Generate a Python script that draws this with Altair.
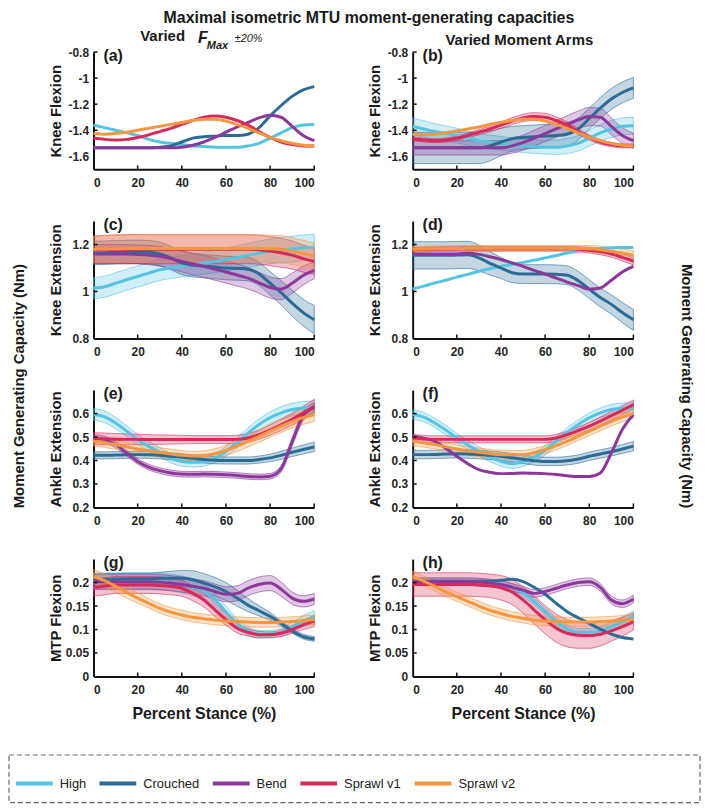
import altair as alt
import pandas as pd

FONT = "Liberation Sans, Arial, sans-serif"
NARROW = "Liberation Sans Narrow, Arial Narrow, Liberation Sans, sans-serif"

X = [0, 5, 10, 15, 20, 25, 30, 35, 40, 45, 50, 55, 60, 65, 70, 75, 80, 85, 90, 95, 100]
XTICKS = [0, 20, 40, 60, 80, 100]
SERIES = ["High", "Crouched", "Bend", "Sprawl v1", "Sprawl v2"]
COLORS = ["#55C3E2", "#2B6C96", "#8C389B", "#D72A5B", "#F59641"]

# ---------------- (a) Knee flexion, varied Fmax ----------------
A_LINES = {
    "High": [-1.36, -1.38, -1.40, -1.42, -1.44, -1.47, -1.49, -1.50, -1.51, -1.52, -1.525, -1.53, -1.53, -1.53, -1.52, -1.50, -1.46, -1.42, -1.38, -1.36, -1.355],
    "Crouched": [-1.535, -1.535, -1.535, -1.535, -1.535, -1.535, -1.53, -1.52, -1.49, -1.46, -1.45, -1.445, -1.44, -1.44, -1.43, -1.38, -1.29, -1.21, -1.14, -1.09, -1.065],
    "Bend": [-1.535, -1.535, -1.535, -1.535, -1.535, -1.535, -1.535, -1.535, -1.53, -1.515, -1.49, -1.455, -1.415, -1.375, -1.34, -1.305, -1.285, -1.30, -1.37, -1.44, -1.48],
    "Sprawl v1": [-1.46, -1.47, -1.475, -1.47, -1.455, -1.435, -1.41, -1.385, -1.355, -1.325, -1.30, -1.29, -1.30, -1.325, -1.36, -1.41, -1.455, -1.49, -1.51, -1.52, -1.52],
    "Sprawl v2": [-1.425, -1.43, -1.425, -1.415, -1.40, -1.385, -1.37, -1.355, -1.34, -1.325, -1.315, -1.315, -1.33, -1.355, -1.385, -1.42, -1.455, -1.48, -1.50, -1.515, -1.52],
}
A_BANDS = {}

# ---------------- (b) Knee flexion, varied moment arms ----------------
B_LINES = {
    "High": [-1.37, -1.39, -1.41, -1.425, -1.44, -1.46, -1.48, -1.49, -1.50, -1.51, -1.52, -1.525, -1.53, -1.53, -1.52, -1.50, -1.46, -1.42, -1.39, -1.37, -1.365],
    "Crouched": [-1.535, -1.535, -1.535, -1.535, -1.535, -1.535, -1.535, -1.52, -1.49, -1.465, -1.455, -1.45, -1.445, -1.44, -1.43, -1.39, -1.31, -1.23, -1.16, -1.11, -1.075],
    "Bend": [-1.535, -1.535, -1.535, -1.535, -1.535, -1.535, -1.535, -1.535, -1.535, -1.52, -1.495, -1.46, -1.425, -1.39, -1.355, -1.32, -1.295, -1.30, -1.37, -1.44, -1.48],
    "Sprawl v1": [-1.465, -1.475, -1.48, -1.475, -1.46, -1.44, -1.415, -1.39, -1.36, -1.33, -1.305, -1.295, -1.30, -1.325, -1.36, -1.41, -1.455, -1.49, -1.51, -1.52, -1.52],
    "Sprawl v2": [-1.43, -1.435, -1.43, -1.42, -1.405, -1.39, -1.375, -1.355, -1.34, -1.325, -1.315, -1.315, -1.33, -1.355, -1.385, -1.42, -1.455, -1.48, -1.50, -1.515, -1.52],
}
B_BANDS = {
    "High": [0.065, 0.063, 0.06, 0.058, 0.056, 0.055, 0.054, 0.053, 0.052, 0.052, 0.052, 0.052, 0.053, 0.055, 0.058, 0.06, 0.062, 0.064, 0.065, 0.065, 0.065],
    "Crouched": [0.12, 0.12, 0.12, 0.12, 0.12, 0.12, 0.12, 0.115, 0.105, 0.095, 0.09, 0.09, 0.09, 0.09, 0.09, 0.085, 0.08, 0.08, 0.08, 0.08, 0.08],
    "Bend": [0.055, 0.055, 0.055, 0.055, 0.055, 0.055, 0.055, 0.055, 0.055, 0.056, 0.058, 0.06, 0.062, 0.064, 0.066, 0.068, 0.07, 0.068, 0.065, 0.06, 0.058],
    "Sprawl v1": [0.015, 0.015, 0.015, 0.016, 0.017, 0.018, 0.02, 0.022, 0.024, 0.026, 0.028, 0.03, 0.03, 0.028, 0.025, 0.022, 0.02, 0.018, 0.016, 0.015, 0.015],
}

# ---------------- (c) Knee extension, varied Fmax ----------------
C_LINES = {
    "High": [1.014, 1.02, 1.035, 1.05, 1.064, 1.078, 1.092, 1.10, 1.107, 1.114, 1.121, 1.128, 1.136, 1.145, 1.154, 1.163, 1.171, 1.177, 1.181, 1.186, 1.189],
    "Crouched": [1.164, 1.165, 1.167, 1.168, 1.169, 1.167, 1.16, 1.143, 1.122, 1.112, 1.108, 1.104, 1.10, 1.098, 1.095, 1.075, 1.035, 0.995, 0.95, 0.91, 0.88],
    "Bend": [1.16, 1.16, 1.16, 1.16, 1.158, 1.155, 1.15, 1.14, 1.128, 1.117, 1.107, 1.095, 1.083, 1.07, 1.057, 1.037, 1.017, 1.01, 1.035, 1.068, 1.09],
    "Sprawl v1": [1.178, 1.179, 1.18, 1.18, 1.18, 1.18, 1.18, 1.18, 1.18, 1.18, 1.18, 1.18, 1.18, 1.18, 1.18, 1.178, 1.172, 1.165, 1.155, 1.14, 1.128],
    "Sprawl v2": [1.18, 1.181, 1.182, 1.183, 1.183, 1.183, 1.183, 1.183, 1.183, 1.183, 1.183, 1.183, 1.183, 1.183, 1.183, 1.183, 1.182, 1.18, 1.172, 1.162, 1.15],
}
C_BANDS = {
    "High": [0.045, 0.045, 0.045, 0.045, 0.045, 0.045, 0.045, 0.045, 0.045, 0.046, 0.047, 0.048, 0.049, 0.05, 0.051, 0.052, 0.053, 0.054, 0.055, 0.055, 0.055],
    "Crouched": [0.05, 0.05, 0.05, 0.05, 0.05, 0.05, 0.05, 0.05, 0.05, 0.05, 0.05, 0.05, 0.05, 0.05, 0.05, 0.05, 0.05, 0.052, 0.055, 0.057, 0.06],
    "Bend": [0.04, 0.04, 0.04, 0.04, 0.04, 0.041, 0.042, 0.044, 0.045, 0.046, 0.047, 0.047, 0.047, 0.047, 0.046, 0.045, 0.045, 0.045, 0.043, 0.04, 0.035],
    "Sprawl v1": [0.058, 0.06, 0.061, 0.062, 0.062, 0.062, 0.062, 0.062, 0.062, 0.062, 0.062, 0.062, 0.062, 0.062, 0.062, 0.062, 0.062, 0.062, 0.06, 0.058, 0.056],
    "Sprawl v2": [0.055, 0.057, 0.058, 0.058, 0.058, 0.058, 0.058, 0.058, 0.058, 0.058, 0.058, 0.058, 0.058, 0.058, 0.058, 0.058, 0.058, 0.058, 0.057, 0.056, 0.055],
}

# ---------------- (d) Knee extension, varied moment arms ----------------
D_LINES = {
    "High": [1.011, 1.023, 1.036, 1.048, 1.061, 1.073, 1.086, 1.097, 1.107, 1.115, 1.124, 1.133, 1.143, 1.153, 1.164, 1.172, 1.179, 1.183, 1.186, 1.187, 1.187],
    "Crouched": [1.154, 1.154, 1.154, 1.154, 1.155, 1.156, 1.143, 1.12, 1.10, 1.08, 1.074, 1.074, 1.074, 1.073, 1.069, 1.046, 1.01, 0.974, 0.945, 0.91, 0.879],
    "Bend": [1.16, 1.16, 1.16, 1.16, 1.16, 1.163, 1.158, 1.148, 1.136, 1.122, 1.107, 1.09, 1.074, 1.057, 1.04, 1.025, 1.01, 1.015, 1.048, 1.083, 1.107],
    "Sprawl v1": [1.178, 1.179, 1.18, 1.181, 1.181, 1.182, 1.182, 1.182, 1.182, 1.182, 1.182, 1.182, 1.182, 1.182, 1.182, 1.18, 1.176, 1.17, 1.16, 1.145, 1.129],
    "Sprawl v2": [1.18, 1.181, 1.182, 1.183, 1.183, 1.184, 1.184, 1.184, 1.184, 1.184, 1.184, 1.184, 1.184, 1.184, 1.184, 1.183, 1.182, 1.178, 1.171, 1.163, 1.154],
}
D_BANDS = {
    "Crouched": [0.058, 0.058, 0.058, 0.058, 0.058, 0.058, 0.055, 0.05, 0.045, 0.042, 0.04, 0.04, 0.04, 0.04, 0.04, 0.04, 0.04, 0.04, 0.041, 0.043, 0.045],
    "Sprawl v1": [0.01, 0.01, 0.01, 0.01, 0.01, 0.01, 0.01, 0.01, 0.01, 0.01, 0.01, 0.01, 0.01, 0.01, 0.01, 0.011, 0.012, 0.013, 0.014, 0.015, 0.016],
    "Sprawl v2": [0.012, 0.012, 0.012, 0.012, 0.012, 0.012, 0.012, 0.012, 0.012, 0.012, 0.012, 0.012, 0.012, 0.012, 0.012, 0.013, 0.014, 0.015, 0.016, 0.018, 0.02],
}

# ---------------- (e) Ankle extension, varied Fmax ----------------
E_LINES = {
    "High": [0.596, 0.586, 0.56, 0.525, 0.489, 0.46, 0.435, 0.41, 0.396, 0.392, 0.396, 0.41, 0.439, 0.475, 0.517, 0.553, 0.582, 0.603, 0.617, 0.624, 0.627],
    "Crouched": [0.422, 0.422, 0.423, 0.424, 0.425, 0.424, 0.422, 0.418, 0.414, 0.409, 0.404, 0.401, 0.40, 0.40, 0.40, 0.404, 0.411, 0.422, 0.435, 0.447, 0.458],
    "Bend": [0.496, 0.489, 0.468, 0.432, 0.396, 0.372, 0.357, 0.347, 0.342, 0.341, 0.342, 0.341, 0.339, 0.336, 0.332, 0.33, 0.333, 0.365, 0.48, 0.59, 0.625],
    "Sprawl v1": [0.493, 0.492, 0.491, 0.49, 0.49, 0.489, 0.489, 0.489, 0.489, 0.489, 0.489, 0.489, 0.489, 0.49, 0.496, 0.51, 0.53, 0.552, 0.576, 0.602, 0.631],
    "Sprawl v2": [0.482, 0.476, 0.468, 0.458, 0.449, 0.442, 0.435, 0.428, 0.422, 0.419, 0.421, 0.429, 0.443, 0.461, 0.482, 0.503, 0.525, 0.546, 0.567, 0.583, 0.596],
}
E_BANDS = {
    "High": [0.025, 0.025, 0.024, 0.023, 0.022, 0.021, 0.02, 0.02, 0.02, 0.02, 0.02, 0.02, 0.021, 0.022, 0.023, 0.024, 0.025, 0.026, 0.027, 0.027, 0.027],
    "Crouched": [0.015, 0.015, 0.015, 0.015, 0.015, 0.015, 0.015, 0.015, 0.015, 0.015, 0.015, 0.015, 0.015, 0.015, 0.015, 0.015, 0.016, 0.017, 0.018, 0.019, 0.02],
    "Bend": [0.014, 0.014, 0.014, 0.013, 0.012, 0.012, 0.012, 0.012, 0.012, 0.012, 0.012, 0.012, 0.012, 0.012, 0.012, 0.012, 0.012, 0.014, 0.018, 0.02, 0.02],
    "Sprawl v1": [0.025, 0.025, 0.024, 0.023, 0.022, 0.021, 0.02, 0.019, 0.018, 0.017, 0.017, 0.017, 0.017, 0.018, 0.019, 0.02, 0.022, 0.024, 0.026, 0.028, 0.03],
    "Sprawl v2": [0.02, 0.02, 0.02, 0.02, 0.02, 0.02, 0.02, 0.02, 0.02, 0.02, 0.02, 0.021, 0.022, 0.023, 0.024, 0.025, 0.026, 0.027, 0.028, 0.029, 0.03],
}

# ---------------- (f) Ankle extension, varied moment arms ----------------
F_LINES = {
    "High": [0.596, 0.585, 0.56, 0.53, 0.496, 0.466, 0.439, 0.415, 0.396, 0.386, 0.395, 0.415, 0.443, 0.482, 0.52, 0.553, 0.582, 0.603, 0.617, 0.623, 0.624],
    "Crouched": [0.425, 0.425, 0.426, 0.428, 0.429, 0.428, 0.425, 0.422, 0.418, 0.412, 0.405, 0.399, 0.396, 0.396, 0.399, 0.406, 0.418, 0.428, 0.437, 0.449, 0.461],
    "Bend": [0.503, 0.495, 0.482, 0.452, 0.418, 0.386, 0.361, 0.35, 0.344, 0.345, 0.347, 0.346, 0.344, 0.34, 0.335, 0.332, 0.332, 0.347, 0.432, 0.532, 0.596],
    "Sprawl v1": [0.496, 0.492, 0.49, 0.49, 0.49, 0.49, 0.49, 0.49, 0.49, 0.49, 0.49, 0.49, 0.49, 0.496, 0.51, 0.527, 0.546, 0.568, 0.591, 0.614, 0.638],
    "Sprawl v2": [0.482, 0.475, 0.468, 0.458, 0.449, 0.441, 0.435, 0.429, 0.425, 0.424, 0.425, 0.433, 0.446, 0.463, 0.482, 0.503, 0.525, 0.546, 0.567, 0.585, 0.6],
}
F_BANDS = {
    "High": [0.02, 0.02, 0.02, 0.02, 0.02, 0.02, 0.02, 0.02, 0.02, 0.02, 0.02, 0.02, 0.02, 0.02, 0.02, 0.02, 0.02, 0.021, 0.022, 0.022, 0.022],
    "Crouched": [0.018, 0.018, 0.018, 0.018, 0.018, 0.018, 0.018, 0.018, 0.018, 0.018, 0.018, 0.018, 0.018, 0.018, 0.018, 0.018, 0.018, 0.018, 0.018, 0.019, 0.02],
    "Sprawl v1": [0.015, 0.015, 0.015, 0.015, 0.015, 0.015, 0.015, 0.015, 0.015, 0.015, 0.015, 0.015, 0.015, 0.015, 0.015, 0.015, 0.016, 0.017, 0.018, 0.019, 0.02],
    "Sprawl v2": [0.018, 0.018, 0.018, 0.018, 0.018, 0.018, 0.018, 0.018, 0.018, 0.018, 0.018, 0.018, 0.018, 0.018, 0.018, 0.018, 0.019, 0.02, 0.02, 0.02, 0.02],
}

# ---------------- (g) MTP flexion, varied Fmax ----------------
G_LINES = {
    "High": [0.202, 0.203, 0.203, 0.203, 0.203, 0.203, 0.202, 0.2, 0.196, 0.19, 0.181, 0.163, 0.138, 0.113, 0.097, 0.09, 0.09, 0.094, 0.106, 0.118, 0.126],
    "Crouched": [0.206, 0.207, 0.207, 0.208, 0.208, 0.208, 0.209, 0.209, 0.209, 0.206, 0.199, 0.191, 0.181, 0.167, 0.152, 0.14, 0.128, 0.113, 0.097, 0.085, 0.08],
    "Bend": [0.202, 0.202, 0.202, 0.202, 0.202, 0.202, 0.201, 0.199, 0.196, 0.192, 0.188, 0.181, 0.175, 0.177, 0.188, 0.196, 0.199, 0.186, 0.167, 0.16, 0.165],
    "Sprawl v1": [0.189, 0.192, 0.195, 0.195, 0.195, 0.195, 0.194, 0.192, 0.188, 0.177, 0.163, 0.142, 0.121, 0.103, 0.094, 0.089, 0.089, 0.092, 0.1, 0.11, 0.118],
    "Sprawl v2": [0.213, 0.204, 0.192, 0.179, 0.167, 0.156, 0.145, 0.137, 0.131, 0.126, 0.123, 0.12, 0.118, 0.117, 0.116, 0.115, 0.115, 0.116, 0.117, 0.119, 0.121],
}
G_BANDS = {
    "High": [0.018, 0.018, 0.018, 0.018, 0.018, 0.018, 0.018, 0.018, 0.018, 0.018, 0.016, 0.014, 0.012, 0.01, 0.009, 0.008, 0.008, 0.009, 0.01, 0.012, 0.014],
    "Crouched": [0.012, 0.012, 0.012, 0.012, 0.012, 0.012, 0.013, 0.015, 0.017, 0.019, 0.02, 0.02, 0.019, 0.017, 0.014, 0.011, 0.008, 0.006, 0.005, 0.005, 0.005],
    "Bend": [0.016, 0.016, 0.016, 0.016, 0.016, 0.016, 0.016, 0.016, 0.016, 0.016, 0.016, 0.016, 0.016, 0.016, 0.016, 0.016, 0.016, 0.015, 0.013, 0.012, 0.012],
    "Sprawl v1": [0.018, 0.018, 0.018, 0.018, 0.018, 0.018, 0.018, 0.018, 0.017, 0.016, 0.015, 0.014, 0.012, 0.01, 0.008, 0.007, 0.006, 0.007, 0.008, 0.01, 0.012],
    "Sprawl v2": [0.015, 0.014, 0.013, 0.012, 0.011, 0.01, 0.01, 0.01, 0.01, 0.01, 0.01, 0.01, 0.01, 0.01, 0.01, 0.01, 0.01, 0.01, 0.01, 0.01, 0.01],
}

# ---------------- (h) MTP flexion, varied moment arms ----------------
H_LINES = {
    "High": [0.202, 0.202, 0.202, 0.202, 0.202, 0.202, 0.201, 0.199, 0.196, 0.19, 0.178, 0.16, 0.138, 0.117, 0.101, 0.094, 0.094, 0.097, 0.106, 0.116, 0.128],
    "Crouched": [0.202, 0.203, 0.203, 0.203, 0.203, 0.203, 0.203, 0.203, 0.205, 0.207, 0.202, 0.19, 0.175, 0.156, 0.138, 0.125, 0.113, 0.101, 0.09, 0.083, 0.08],
    "Bend": [0.202, 0.202, 0.202, 0.202, 0.202, 0.202, 0.201, 0.199, 0.196, 0.19, 0.184, 0.177, 0.181, 0.188, 0.195, 0.2, 0.202, 0.19, 0.163, 0.155, 0.165],
    "Sprawl v1": [0.196, 0.196, 0.196, 0.196, 0.196, 0.196, 0.195, 0.193, 0.189, 0.18, 0.163, 0.142, 0.121, 0.103, 0.092, 0.088, 0.087, 0.09, 0.097, 0.106, 0.117],
    "Sprawl v2": [0.213, 0.203, 0.192, 0.18, 0.17, 0.16, 0.15, 0.141, 0.134, 0.128, 0.124, 0.12, 0.118, 0.117, 0.116, 0.116, 0.116, 0.117, 0.118, 0.12, 0.122],
}
H_BANDS = {
    "High": [0.008, 0.008, 0.008, 0.008, 0.008, 0.008, 0.008, 0.008, 0.008, 0.008, 0.008, 0.008, 0.008, 0.008, 0.008, 0.008, 0.008, 0.009, 0.01, 0.011, 0.012],
    "Bend": [0.008, 0.008, 0.008, 0.008, 0.008, 0.008, 0.008, 0.008, 0.008, 0.008, 0.008, 0.008, 0.008, 0.008, 0.008, 0.008, 0.008, 0.008, 0.008, 0.008, 0.008],
    "Sprawl v1": [0.025, 0.025, 0.025, 0.025, 0.025, 0.025, 0.025, 0.025, 0.026, 0.027, 0.028, 0.03, 0.03, 0.03, 0.029, 0.028, 0.027, 0.025, 0.022, 0.02, 0.018],
    "Sprawl v2": [0.012, 0.011, 0.01, 0.01, 0.01, 0.01, 0.01, 0.01, 0.01, 0.01, 0.01, 0.01, 0.01, 0.01, 0.01, 0.01, 0.01, 0.01, 0.01, 0.01, 0.01],
}

W, H = 222, 118
TXT = "#1a1a1a"

LEGEND = alt.Legend(
    title=None, orient="none", legendX=-80, legendY=715, direction="horizontal",
    symbolType="stroke", symbolSize=1369, symbolStrokeWidth=4, symbolOpacity=1,
    labelFont=NARROW, labelFontSize=13, labelColor="#222222", labelOffset=5,
    columnPadding=5, padding=0,
)


def one_row():
    return pd.DataFrame({"k": [0]})


def text_layer(text, x, y, size, weight="bold", style="normal", align="left", baseline="alphabetic", angle=0):
    kw = dict(text=text, fontSize=size, fontWeight=weight, fontStyle=style, align=align,
              baseline=baseline, font=FONT, color=TXT)
    if angle:
        kw["angle"] = angle
    return alt.Chart(one_row()).mark_text(**kw).encode(x=alt.value(x), y=alt.value(y))


def panel(letter, ytitle, ydom, yticks, lines, bands, xtitle, extras):
    xs = alt.Scale(domain=[0, 100], nice=False, zero=False)
    ys = alt.Scale(domain=ydom, nice=False, zero=False)
    xaxis = alt.Axis(values=XTICKS, title=xtitle, grid=False, ticks=False, tickSize=0,
                     labelPadding=8, titlePadding=10, titleFontSize=16, labelFontSize=12)
    yaxis = alt.Axis(values=yticks, title=ytitle, grid=False, ticks=False, tickSize=0,
                     labelPadding=5, labelExpr="'' + datum.value", labelFontSize=12,
                     titleFontSize=15, minExtent=28, maxExtent=28, titlePadding=2)
    cscale = alt.Scale(domain=SERIES, range=COLORS)

    lrows = []
    for s in SERIES:
        for xv, yv in zip(X, lines[s]):
            lrows.append({"x": xv, "y": yv, "series": s})
    ldf = pd.DataFrame(lrows)

    layers = []
    if bands:
        brows = []
        for s in SERIES:
            if s in bands:
                for xv, yv, hw in zip(X, lines[s], bands[s]):
                    brows.append({"x": xv, "lo": yv - hw, "hi": yv + hw, "series": s})
        bdf = pd.DataFrame(brows)
        layers.append(
            alt.Chart(bdf).mark_area(fillOpacity=0.28, strokeOpacity=0.75, strokeWidth=0.8,
                                     interpolate="monotone").encode(
                x=alt.X("x:Q", scale=xs, axis=xaxis),
                y=alt.Y("lo:Q", scale=ys, axis=yaxis),
                y2="hi:Q",
                color=alt.Color("series:N", scale=cscale, legend=None),
                stroke=alt.Stroke("series:N", scale=cscale, legend=None),
            )
        )
    layers.append(
        alt.Chart(ldf).mark_line(strokeWidth=3, interpolate="monotone").encode(
            x=alt.X("x:Q", scale=xs, axis=xaxis),
            y=alt.Y("y:Q", scale=ys, axis=yaxis),
            color=alt.Color("series:N", scale=cscale, legend=LEGEND, sort=SERIES),
        )
    )
    # inward ticks (MATLAB style), positioned by the scales at the tick values
    layers.append(
        alt.Chart(pd.DataFrame({"t": XTICKS[1:]})).mark_rule(color="#111", strokeWidth=1.5).encode(
            x=alt.X("t:Q", scale=xs, axis=xaxis), y=alt.value(H), y2=alt.value(H - 4))
    )
    layers.append(
        alt.Chart(pd.DataFrame({"t": yticks[1:]})).mark_rule(color="#111", strokeWidth=1.5).encode(
            y=alt.Y("t:Q", scale=ys, axis=yaxis), x=alt.value(0), x2=alt.value(4))
    )
    layers.append(text_layer(letter, 10, 4, 16, baseline="middle"))
    layers.extend(extras)
    return alt.layer(*layers).properties(width=W, height=H)


YT_KF = [-1.6, -1.4, -1.2, -1, -0.8]
YT_KE = [0.8, 1, 1.2]
YT_AE = [0.2, 0.3, 0.4, 0.5, 0.6]
YT_MTP = [0, 0.05, 0.1, 0.15, 0.2]

a_extras = [
    text_layer("Maximal isometric MTU moment-generating capacities", 277, -29, 16, align="center"),
    text_layer("Varied", 47, -11, 15),
    text_layer("F", 105, -9, 16, style="italic"),
    text_layer("Max", 114, -3, 11, style="italic"),
    text_layer("±20%", 142, -10, 11, weight="normal", style="italic"),
]
b_extras = [text_layer("Varied Moment Arms", 33, -7, 15)]
e_extras = [text_layer("Moment Generating Capacity (Nm)", -75, -4, 15, align="center",
                       baseline="middle", angle=270)]
f_extras = [text_layer("Moment Generating Capacity (Nm)", 276, -4, 15, align="center",
                       baseline="middle", angle=90)]
g_extras = [
    alt.Chart(one_row()).mark_rect(fillOpacity=0, stroke="#666666", strokeWidth=1.2,
                                   strokeDash=[5, 3]).encode(
        x=alt.value(-85), x2=alt.value(610), y=alt.value(197), y2=alt.value(245))
]

panels = [
    panel("(a)", "Knee Flexion", [-1.7, -0.8], YT_KF, A_LINES, A_BANDS, "", a_extras),
    panel("(b)", "Knee Flexion", [-1.7, -0.8], YT_KF, B_LINES, B_BANDS, "", b_extras),
    panel("(c)", "Knee Extension", [0.8, 1.3], YT_KE, C_LINES, C_BANDS, "", []),
    panel("(d)", "Knee Extension", [0.8, 1.3], YT_KE, D_LINES, D_BANDS, "", []),
    panel("(e)", "Ankle Extension", [0.2, 0.7], YT_AE, E_LINES, E_BANDS, "", e_extras),
    panel("(f)", "Ankle Extension", [0.2, 0.7], YT_AE, F_LINES, F_BANDS, "", f_extras),
    panel("(g)", "MTP Flexion", [0, 0.25], YT_MTP, G_LINES, G_BANDS, "Percent Stance (%)", g_extras),
    panel("(h)", "MTP Flexion", [0, 0.25], YT_MTP, H_LINES, H_BANDS, "Percent Stance (%)", []),
]

chart = alt.concat(*panels, columns=2, spacing={"row": 52, "column": 99}, bounds="flush").resolve_scale(
    color="shared", stroke="shared"
).properties(padding=0, background="white").configure_view(stroke=None).configure_axis(
    labelFont=FONT, titleFont=FONT, labelFontWeight="bold", titleFontWeight="bold",
    labelColor="#262626", titleColor="#1a1a1a", domainColor="#111111", domainWidth=2,
)

chart.save("out.html", embed_options={"renderer": "svg", "actions": False})
